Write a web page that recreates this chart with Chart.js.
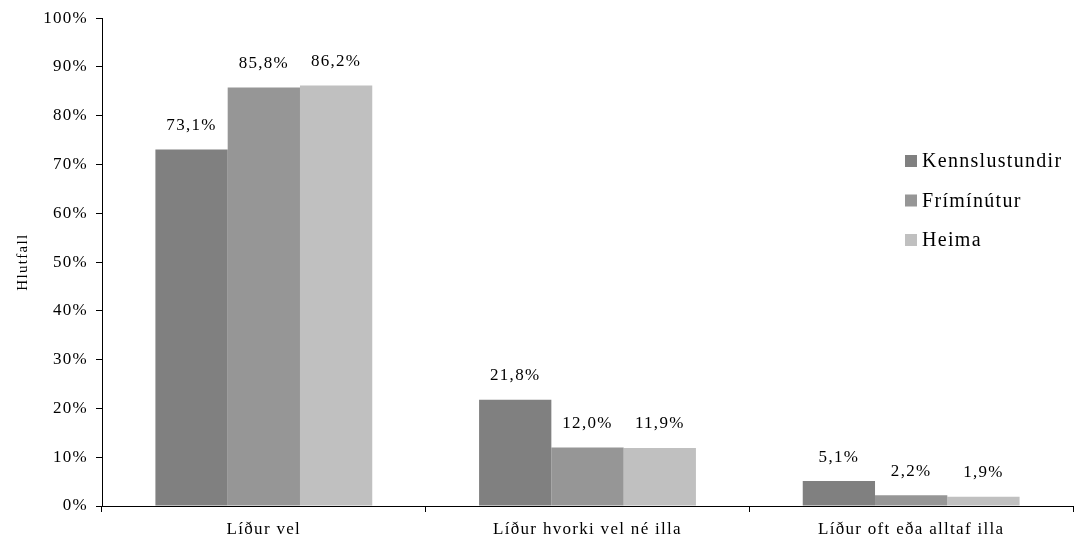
<!DOCTYPE html>
<html>
<head>
<meta charset="utf-8">
<script src="https://cdn.jsdelivr.net/npm/chart.js@4.4.1/dist/chart.umd.min.js"></script>
<style>
  html, body { margin: 0; padding: 0; background: #fff; }
  #wrap { width: 1075px; height: 545px; }
</style>
</head>
<body>
<div id="wrap"><canvas id="myChart" width="1075" height="545"></canvas></div>
<script>
const categorias = ["Líður vel", "Líður hvorki vel né illa", "Líður oft eða alltaf illa"];
const kennslustundir = [73.1, 21.8, 5.1];
const friminutur = [85.8, 12.0, 2.2];
const heima = [86.2, 11.9, 1.9];
const yTicks = [0, 10, 20, 30, 40, 50, 60, 70, 80, 90, 100];

const serif = "'Liberation Serif', 'Times New Roman', serif";
const espacio = "1.3px";

// keep the wide letter spacing of the original
const spacingPlugin = {
  id: "spacing",
  beforeLayout(chart) { chart.ctx.letterSpacing = espacio; },
  beforeDraw(chart) { chart.ctx.letterSpacing = espacio; }
};

const valoresPlugin = {
  id: "valores",
  afterDatasetsDraw(chart) {
    const ctx = chart.ctx;
    ctx.save();
    ctx.letterSpacing = espacio;
    ctx.font = "17px " + serif;
    ctx.fillStyle = "#000";
    ctx.textAlign = "center";
    ctx.textBaseline = "middle";
    chart.data.datasets.forEach((ds, i) => {
      chart.getDatasetMeta(i).data.forEach((bar, j) => {
        const txt = ds.data[j].toFixed(1).replace(".", ",") + "%";
        ctx.fillText(txt, bar.x, bar.y - 24);
      });
    });
    ctx.restore();
  }
};

const leyendaPlugin = {
  id: "leyenda",
  afterDraw(chart) {
    const ctx = chart.ctx;
    ctx.save();
    ctx.letterSpacing = espacio;
    ctx.font = "20px " + serif;
    ctx.textBaseline = "middle";
    ctx.textAlign = "left";
    chart.data.datasets.forEach((ds, i) => {
      const y = 161 + i * 39.5;
      ctx.fillStyle = ds.backgroundColor;
      ctx.fillRect(905, y - 6, 12, 12);
      ctx.fillStyle = "#000";
      ctx.fillText(ds.label, 922, y + 1);
    });
    ctx.restore();
  }
};

const data = {
  labels: categorias,
  datasets: [
    { label: "Kennslustundir", data: kennslustundir, backgroundColor: "#808080" },
    { label: "Frímínútur", data: friminutur, backgroundColor: "#969696" },
    { label: "Heima", data: heima, backgroundColor: "#c0c0c0" }
  ]
};

const config = {
  type: "bar",
  data,
  options: {
    responsive: false,
    animation: false,
    layout: { padding: { top: 17, right: 2, bottom: 0, left: 0 } },
    datasets: { bar: { categoryPercentage: 0.67, barPercentage: 1.0 } },
    plugins: {
      legend: { display: false },
      tooltip: { enabled: false }
    },
    scales: {
      x: {
        offset: true,
        border: { display: true, color: "#000", width: 1 },
        grid: { offset: true, drawOnChartArea: false, drawTicks: true, tickLength: 6, color: "#000" },
        ticks: { color: "#000", font: { family: serif, size: 17 }, padding: 7, maxRotation: 0 },
        afterFit(scale) { scale.height = 39; }
      },
      y: {
        min: 0,
        max: 100,
        afterBuildTicks(scale) { scale.ticks = yTicks.map(v => ({ value: v })); },
        border: { display: true, color: "#000", width: 1 },
        grid: { drawOnChartArea: false, drawTicks: true, tickLength: 6, color: "#000" },
        ticks: { color: "#000", font: { family: serif, size: 17 }, padding: 8, callback: v => v + "%" },
        title: { display: true, text: "Hlutfall", color: "#000", font: { family: serif, size: 15 }, padding: { top: 14, bottom: 0 } },
        afterFit(scale) { scale.width = 102; }
      }
    }
  },
  plugins: [spacingPlugin, valoresPlugin, leyendaPlugin]
};

const grafico = new Chart(document.getElementById("myChart"), config);
</script>
</body>
</html>
